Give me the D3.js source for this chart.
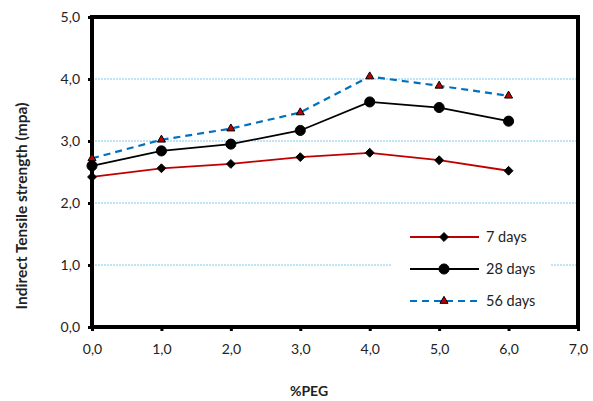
<!DOCTYPE html>
<html>
<head>
<meta charset="utf-8">
<script src="https://cdn.jsdelivr.net/npm/d3@7"></script>
<style>
  body { margin: 0; background: #fff; }
  text { font-family: Lato, "Open Sans", sans-serif; }
</style>
</head>
<body>
<div id="chart"></div>
<script>
// data
var peg = [0, 1, 2, 3, 4, 5, 6];
var days7 = [2.42, 2.56, 2.63, 2.74, 2.81, 2.69, 2.52];
var days28 = [2.60, 2.84, 2.95, 3.17, 3.63, 3.54, 3.32];
var days56 = [2.72, 3.02, 3.20, 3.46, 4.04, 3.89, 3.73];
var xTicks = [0, 1, 2, 3, 4, 5, 6, 7];
var yTicks = [0, 1, 2, 3, 4, 5];
var seriesNames = ["7 days", "28 days", "56 days"];

var width = 593, height = 401;
var margin = {top: 17, right: 15, bottom: 74, left: 92};

var svg = d3.select("#chart").append("svg")
    .attr("width", width)
    .attr("height", height);

var x = d3.scaleLinear().domain([0, 7]).range([margin.left, width - margin.right]);
var y = d3.scaleLinear().domain([0, 5]).range([height - margin.bottom, margin.top]);

var fmt = function (d) { return d3.format(".1f")(d).replace(".", ","); };

// gridlines
svg.append("g").selectAll("line")
    .data(yTicks.filter(function (d) { return d > 0 && d < 5; }))
    .enter().append("line")
    .attr("x1", x(0)).attr("x2", x(7))
    .attr("y1", function (d) { return y(d); })
    .attr("y2", function (d) { return y(d); })
    .attr("stroke", "#7cc8ee")
    .attr("stroke-width", 1)
    .attr("stroke-dasharray", "2,1");

// axes
var yAxis = d3.axisLeft(y).tickValues(yTicks).tickFormat(fmt).tickSize(4).tickPadding(8);
var xAxis = d3.axisBottom(x).tickValues(xTicks).tickFormat(fmt).tickSize(4).tickPadding(13);

var gy = svg.append("g").attr("transform", "translate(" + x(0) + ",0)").call(yAxis);
var gx = svg.append("g").attr("transform", "translate(0," + y(0) + ")").call(xAxis);
[gx, gy].forEach(function (g) {
    g.select(".domain").remove();
    g.selectAll(".tick line").attr("stroke", "#000").attr("stroke-width", 3);
    g.selectAll(".tick text").attr("font-size", 14).attr("fill", "#222");
});

// frame
svg.append("rect")
    .attr("x", x(0)).attr("y", y(5))
    .attr("width", x(7) - x(0)).attr("height", y(0) - y(5))
    .attr("fill", "none")
    .attr("stroke", "#000")
    .attr("stroke-width", 4);

// series
var series = [
    {name: seriesNames[0], values: days7, color: "#c00000", width: 1.8, dash: null, marker: d3.symbolDiamond2, msize: 50, mfill: "#000"},
    {name: seriesNames[1], values: days28, color: "#000", width: 1.8, dash: null, marker: d3.symbolCircle, msize: 80, mfill: "#000"},
    {name: seriesNames[2], values: days56, color: "#0070c0", width: 2.2, dash: "7,5", marker: d3.symbolTriangle, msize: 28, mfill: "#c00000"}
];

var line = d3.line()
    .x(function (d, i) { return x(peg[i]); })
    .y(function (d) { return y(d); });

series.forEach(function (s) {
    svg.append("path")
        .datum(s.values)
        .attr("d", line)
        .attr("fill", "none")
        .attr("stroke", s.color)
        .attr("stroke-width", s.width)
        .attr("stroke-dasharray", s.dash);
    svg.append("g").selectAll("path")
        .data(s.values)
        .enter().append("path")
        .attr("transform", function (d, i) { return "translate(" + x(peg[i]) + "," + y(d) + ")"; })
        .attr("d", d3.symbol().type(s.marker).size(s.msize))
        .attr("fill", s.mfill)
        .attr("stroke", "#000")
        .attr("stroke-width", 1);
});

// legend
var legend = svg.append("g").attr("transform", "translate(391,222)");
legend.append("rect")
    .attr("width", 160).attr("height", 92)
    .attr("fill", "#fff");
series.forEach(function (s, i) {
    var row = legend.append("g").attr("transform", "translate(0," + (15 + i * 32) + ")");
    row.append("line")
        .attr("x1", 19).attr("x2", 88)
        .attr("stroke", s.color)
        .attr("stroke-width", s.width)
        .attr("stroke-dasharray", s.dash);
    row.append("path")
        .attr("transform", "translate(53,0)")
        .attr("d", d3.symbol().type(s.marker).size(s.msize))
        .attr("fill", s.mfill)
        .attr("stroke", "#000")
        .attr("stroke-width", 1);
    row.append("text")
        .attr("x", 95).attr("dy", "0.35em")
        .attr("font-size", 14.5)
        .attr("fill", "#222")
        .text(s.name);
});

// axis titles
svg.append("text")
    .attr("transform", "translate(27,206) rotate(-90)")
    .attr("text-anchor", "middle")
    .attr("font-size", 15.5)
    .attr("font-weight", "bold")
    .attr("fill", "#222")
    .text("Indirect Tensile strength (mpa)");

svg.append("text")
    .attr("x", 309)
    .attr("y", 396)
    .attr("text-anchor", "middle")
    .attr("font-size", 14)
    .attr("font-weight", "bold")
    .attr("fill", "#222")
    .text("%PEG");
</script>
</body>
</html>
